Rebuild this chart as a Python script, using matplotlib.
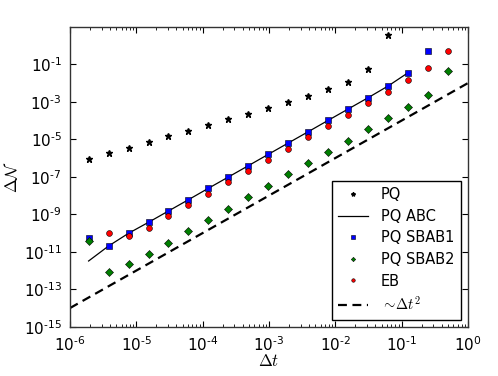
import math
import matplotlib
matplotlib.use("Agg")
import matplotlib.pyplot as plt
from matplotlib.ticker import LogLocator, NullLocator, FuncFormatter, NullFormatter

plt.rcParams['mathtext.fontset'] = 'cm'
plt.rcParams['font.family'] = 'DejaVu Sans'
plt.rcParams['axes.unicode_minus'] = False

dt = [1.907e-6, 3.815e-6, 7.629e-6, 1.526e-5, 3.052e-5, 6.104e-5, 1.221e-4,
      2.441e-4, 4.883e-4, 9.766e-4, 1.953e-3, 3.906e-3, 7.813e-3, 1.563e-2,
      3.125e-2, 6.25e-2, 0.125, 0.25, 0.5]

pq = [8.9e-7, 1.79e-6, 3.56e-6, 7.18e-6, 1.45e-5, 2.88e-5, 5.79e-5, 1.17e-4,
      2.32e-4, 4.84e-4, 1.01e-3, 2.04e-3, 4.65e-3, 1.14e-2, 5.82e-2, 3.79]
pq_abc = [3.23e-12, 2.04e-11, 9.7e-11, 3.74e-10, 1.5e-9, 6.01e-9, 2.44e-8,
          9.75e-8, 3.91e-7, 1.58e-6, 6.35e-6, 2.54e-5, 1.03e-4, 4.13e-4,
          1.66e-3, 6.97e-3, 3.56e-2]
sbab1 = [5.65e-11, 2.04e-11, 9.7e-11, 3.74e-10, 1.5e-9, 6.01e-9, 2.44e-8,
         9.75e-8, 3.91e-7, 1.58e-6, 6.35e-6, 2.54e-5, 1.03e-4, 4.13e-4,
         1.66e-3, 6.97e-3, 3.56e-2, 0.493]
sbab2 = [3.91e-11, 8.69e-13, 2.32e-12, 7.64e-12, 3.05e-11, 1.24e-10, 4.97e-10,
         1.99e-9, 8.07e-9, 3.23e-8, 1.33e-7, 5.45e-7, 2.1e-6, 8.41e-6, 3.41e-5,
         1.37e-4, 5.48e-4, 2.22e-3, 4.24e-2]
eb = [9.7e-11, 6.71e-11, 1.93e-10, 7.82e-10, 3.13e-9, 1.21e-8, 5.09e-8,
      2.01e-7, 7.87e-7, 3.16e-6, 1.28e-5, 5.12e-5, 2.05e-4, 8.32e-4, 3.46e-3,
      1.40e-2, 6.35e-2, 0.493]
ref_x = [1e-6, 1.0]
ref_y = [1e-14, 1e-2]
y_ticks = [1e-15, 1e-13, 1e-11, 1e-9, 1e-7, 1e-5, 1e-3, 1e-1]


def fmt_pow(v, pos):
    e = int(round(math.log10(v)))
    s = str(abs(e))
    if e < 0:
        s = '\u2010' + s
    return r'$\mathdefault{10^{%s}}$' % s


fig = plt.figure(figsize=(4.98, 3.76), dpi=100)
ax = fig.add_axes([70/498, 1-326.8/376, 398/498, 300/376])

ax.plot(dt[:len(pq)], pq, ls='none', marker='*', color='k', ms=5.0,
        mec='k', label='PQ')
ax.plot(dt[:len(pq_abc)], pq_abc, color='k', lw=0.9, label='PQ ABC')
ax.plot(dt[:len(sbab1)], sbab1, ls='none', marker='s', color='#0000ff',
        ms=4.0, mec='k', mew=0.4, label='PQ SBAB1')
ax.plot(dt, sbab2, ls='none', marker='D', color='#007f00', ms=3.7,
        mec='k', mew=0.4, label='PQ SBAB2')
ax.plot(dt[1:], eb, ls='none', marker='o', color='#ff0000', ms=4.2,
        mec='k', mew=0.4, label='EB')
ax.plot(ref_x, ref_y, color='k', lw=1.6, dashes=(4, 2.5),
        label=r'$\sim\!\Delta t^2$')

ax.set_xscale('log')
ax.set_yscale('log')
ax.set_xlim(1e-6, 1)
ax.xaxis.set_major_locator(LogLocator(base=10, numticks=20))
ax.xaxis.set_minor_locator(LogLocator(base=10, subs=range(2, 10), numticks=20))
ax.xaxis.set_minor_formatter(NullFormatter())
ax.set_yticks(y_ticks)
ax.yaxis.set_minor_locator(NullLocator())
ax.yaxis.set_minor_formatter(NullFormatter())
ax.set_ylim(1e-15, 1e1)
ax.xaxis.set_major_formatter(FuncFormatter(fmt_pow))
ax.yaxis.set_major_formatter(FuncFormatter(fmt_pow))
ax.tick_params(which='both', direction='in', top=True, right=True,
               labelsize=11, pad=6)
ax.tick_params(which='major', length=4, width=0.8)
ax.tick_params(which='minor', length=2, width=0.6)
for s in ax.spines.values():
    s.set_linewidth(1.0)
    s.set_color('#333333')

ax.set_xlabel(r'$\Delta t$', fontsize=12, labelpad=-1)
ax.set_ylabel(r'$\Delta \mathcal{N}$', fontsize=12)
ax.yaxis.set_label_coords(-0.122, 0.5)

leg = ax.legend(loc='lower right', fontsize=10.5, markerscale=0.6,
                numpoints=1, fancybox=False, framealpha=1, edgecolor='k',
                labelspacing=0.45, handlelength=2.0, handletextpad=0.9,
                borderaxespad=0.5, borderpad=0.45)
leg.get_frame().set_linewidth(1.0)

fig.savefig('out.png', dpi=100)
